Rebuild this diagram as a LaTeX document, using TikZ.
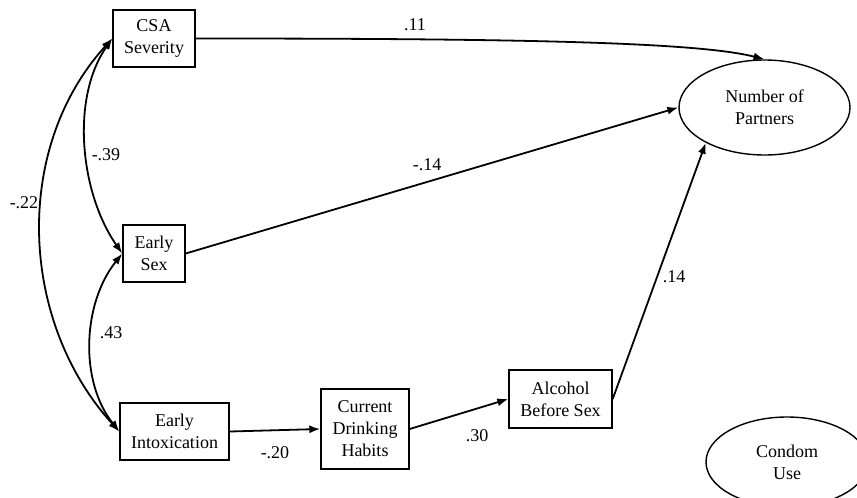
\documentclass[tikz,border=0pt]{standalone}
\usepackage{fontspec}
\setmainfont{Liberation Serif}
\usetikzlibrary{arrows.meta,shapes.geometric}
\begin{document}
\begin{tikzpicture}[x=1pt, y=-1pt, >={Latex[length=11pt,width=8pt]},
  font=\fontsize{18}{22}\selectfont,
  var/.style={draw, line width=1.4pt, align=center, inner sep=0pt},
  latent/.style={draw, ellipse, line width=1.4pt, align=center, inner sep=0pt},
  path/.style={->, line width=1.8pt},
  cov/.style={<->, line width=1.8pt},
  coef/.style={inner sep=0pt}]
\useasboundingbox (0,0) rectangle (857,498);
\clip (0,0) rectangle (857,498);
\node[var, minimum width=82pt, minimum height=57pt] (csa) at (154,38.5) {CSA\\Severity};
\node[var, minimum width=62pt, minimum height=57pt] (esex) at (154,253.5) {Early\\Sex};
\node[var, minimum width=109pt, minimum height=57pt] (eint) at (174.5,431.5) {Early\\Intoxication};
\node[var, minimum width=88pt, minimum height=80pt] (cdh) at (365,429) {Current\\Drinking\\Habits};
\node[var, minimum width=103pt, minimum height=58pt] (abs) at (560.5,399) {Alcohol\\Before Sex};
\node[latent, minimum width=171pt, minimum height=95pt] (nop) at (764.5,107.5) {Number of\\Partners};
\node[latent, minimum width=162pt, minimum height=90pt] (cu) at (787,462) {Condom\\Use};
\draw[path] (csa.east) .. controls +(300,0) and +(-70,-18) .. (nop.north);
\draw[path] (esex.east) -- (nop.west);
\draw[path] (abs.east) -- (nop.211);
\draw[path] (eint.east) -- (cdh.west);
\draw[path] (cdh.east) -- (abs.west);
\draw[cov] (csa.west) .. controls +(-42,60) and +(-42,-60) .. (esex.west);
\draw[cov] (csa.west) .. controls +(-100,110) and +(-100,-110) .. (eint.west);
\draw[cov] (esex.west) .. controls +(-40,50) and +(-40,-50) .. (eint.west);
\node[coef] (b11) at (415,25) {.11};
\node[coef] (b14a) at (427,165) {-.14};
\node[coef] (b14b) at (674,277) {.14};
\node[coef] (b30) at (477,436) {.30};
\node[coef] (b20) at (275,453) {-.20};
\node[coef] (r39) at (106,155) {-.39};
\node[coef] (r22) at (24,203) {-.22};
\node[coef] (r43) at (111,333) {.43};
\end{tikzpicture}
\end{document}
